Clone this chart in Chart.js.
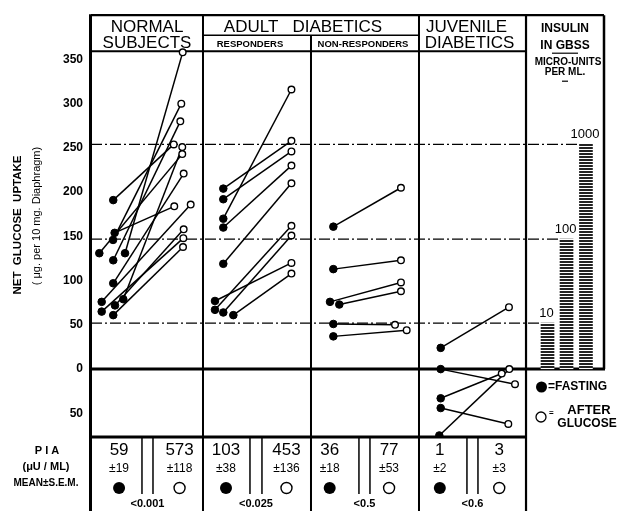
<!DOCTYPE html>
<html><head><meta charset="utf-8">
<script src="https://cdn.jsdelivr.net/npm/chart.js@4"></script>
<style>html,body{margin:0;padding:0;background:#fff}#wrap{width:625px;height:511px;position:relative}</style>
</head><body><div id="wrap"><canvas id="c" width="625" height="511"></canvas></div>
<script>
// ---------- DATA ----------
const yTickValues = [350,300,250,200,150,100,50,0,-50];
const panelEdges = [0,1.037,2.037,3.037,4.028,4.75];

const normalFastingX = [0.206,0.219,0.204,0.077,0.315,0.206,0.206,0.299,0.099,0.222,0.099,0.206];
const normalFasting  = [191,154,146,131,131,123,97,79,76,72,65,61];
const normalAfterX   = [0.766,0.771,0.836,0.845,0.849,0.827,0.858,0.845,0.923,0.858,0.855,0.852];
const normalAfter    = [254,184,300,243,358,280,221,251,186,158,148,138];

const respFastingX = [1.225,1.225,1.225,1.225,1.225,1.148,1.148,1.225,1.318];
const respFasting  = [204,192,170,160,119,77,67,64,61];
const respAfterX   = [1.856,1.856,1.856,1.856,1.856,1.856,1.856,1.856,1.856];
const respAfter    = [258,246,316,230,210,120,162,151,108];

const nonRespFastingX = [2.244,2.244,2.213,2.299,2.244,2.244];
const nonRespFasting  = [161,113,76,73,51,37];
const nonRespAfterX   = [2.870,2.870,2.870,2.870,2.815,2.923];
const nonRespAfter    = [205,123,98,88,50,44];

const juvFastingX = [3.238,3.238,3.238,3.238,3.225];
const juvFasting  = [24,0,-33,-44,-75];
const juvAfterX   = [3.870,3.926,3.803,3.864,3.873];
const juvAfter    = [70,-17,-5,-62,0];

const insulinLabels = ['10','100','1000'];
const insulinX      = [4.227,4.403,4.583];
const insulinUptake = [52,147,254];
const dashEndX      = [4.167,4.343,4.519];

const piaColX  = [0.26,0.82,1.25,1.81,2.21,2.76,3.23,3.78];
const piaMean  = ['59','573','103','453','36','77','1','3'];
const piaSem   = ['19','118','38','136','18','53','2','3'];
const pValues  = ['<0.001','<0.025','<0.5','<0.6'];
const doubleLineX = [[0.472,0.574],[1.472,1.583],[2.481,2.583],[3.481,3.583]];

// ---------- BUILD ----------
const FONT = "'Liberation Sans', Arial, sans-serif";
function hatch(){
  const c=document.createElement('canvas');c.width=4;c.height=3;
  const x=c.getContext('2d');x.fillStyle='#fff';x.fillRect(0,0,4,3);
  x.fillStyle='#222';x.fillRect(0,0,4,2);
  return x.createPattern(c,'repeat');
}
const datasets = [];
// dash-dot standard lines
insulinUptake.forEach((v,i)=>{
  datasets.push({type:'scatter',showLine:true,data:[{x:panelEdges[0],y:v},{x:dashEndX[i],y:v}],
    borderColor:'#000',borderWidth:1.3,borderDash:[11,3,2,3],pointRadius:0,order:5});
});
function addGroup(fx,fy,ax,ay){
  for(let i=0;i<fy.length;i++){
    datasets.push({type:'scatter',showLine:true,
      data:[{x:fx[i],y:fy[i]},{x:ax[i],y:ay[i]}],
      borderColor:'#000',borderWidth:1.5,
      pointRadius:[3.8,3.3],pointBackgroundColor:['#000','#fff'],
      pointBorderColor:'#000',pointBorderWidth:[1,1.4],order:1});
  }
}
addGroup(normalFastingX,normalFasting,normalAfterX,normalAfter);
addGroup(respFastingX,respFasting,respAfterX,respAfter);
addGroup(nonRespFastingX,nonRespFasting,nonRespAfterX,nonRespAfter);
addGroup(juvFastingX,juvFasting,juvAfterX,juvAfter);
datasets.push({type:'bar',data:insulinX.map((x,i)=>({x:x,y:insulinUptake[i]})),
  backgroundColor:hatch(),barThickness:13,borderWidth:0,order:6});

function line(ctx,x1,y1,x2,y2,w){ctx.lineWidth=w;ctx.beginPath();ctx.moveTo(x1,y1);ctx.lineTo(x2,y2);ctx.stroke();}
function txt(ctx,s,x,y,font,align){ctx.font=font+' '+FONT;ctx.textAlign=align||'center';ctx.textBaseline='middle';ctx.fillText(s,x,y);}

const frame = {
  id:'frame',
  beforeDatasetsDraw(chart){
    const ctx=chart.ctx, X=v=>chart.scales.x.getPixelForValue(v), Y=v=>chart.scales.y.getPixelForValue(v);
    const a=chart.chartArea, H=chart.height;
    ctx.save();ctx.strokeStyle='#000';ctx.fillStyle='#000';
    const e=panelEdges.map(X);
    line(ctx,e[0],a.top,e[5],a.top,2.2);
    line(ctx,e[0],a.top+36,e[4],a.top+36,2);
    line(ctx,e[1],a.top+20,e[3],a.top+20,1.5);
    line(ctx,e[0]-0.5,a.top-1,e[0]-0.5,H,3);
    line(ctx,e[1],a.top,e[1],H,2);
    line(ctx,e[2],a.top+20,e[2],H,2);
    line(ctx,e[3],a.top,e[3],H,2);
    line(ctx,e[4],a.top,e[4],H,2.2);
    line(ctx,e[5],a.top,e[5],Y(0),2.5);
    line(ctx,e[0],Y(0),e[5]+1,Y(0),3);
    line(ctx,e[0],a.bottom+1,e[4],a.bottom+1,3);
    // double lines in table
    doubleLineX.forEach(p=>{p.forEach(u=>line(ctx,X(u),a.bottom,X(u),a.bottom+58,1.5));});
    ctx.restore();
  },
  afterDraw(chart){
    const ctx=chart.ctx, X=v=>chart.scales.x.getPixelForValue(v), Y=v=>chart.scales.y.getPixelForValue(v);
    const a=chart.chartArea;
    const e=panelEdges.map(X);
    ctx.save();ctx.fillStyle='#000';ctx.strokeStyle='#000';
    // headers
    txt(ctx,'NORMAL',(e[0]+e[1])/2,a.top+12,'17px');
    txt(ctx,'SUBJECTS',(e[0]+e[1])/2,a.top+28,'17px');
    txt(ctx,'ADULT   DIABETICS',(e[1]+e[3])/2-8,a.top+12,'17px');
    txt(ctx,'RESPONDERS',(e[1]+e[2])/2-7,a.top+29,'bold 9.5px');
    txt(ctx,'NON-RESPONDERS',(e[2]+e[3])/2-2,a.top+29,'bold 9.5px');
    txt(ctx,'JUVENILE',(e[3]+e[4])/2-6,a.top+12,'17px');
    txt(ctx,'DIABETICS',(e[3]+e[4])/2-3,a.top+28,'17px');
    const ic=(e[4]+e[5])/2;
    txt(ctx,'INSULIN',ic,a.top+13,'bold 12px');
    txt(ctx,'IN GBSS',ic,a.top+30,'bold 12px');
    line(ctx,ic-13,a.top+38,ic+13,a.top+38,1.2);
    txt(ctx,'MICRO-UNITS',ic+3,a.top+47,'bold 10px');
    txt(ctx,'PER ML.',ic,a.top+57,'bold 10px');
    line(ctx,ic-3,a.top+66,ic+3,a.top+66,1.2);
    // insulin labels
    insulinLabels.forEach((s,i)=>txt(ctx,s,X(insulinX[i])-1,Y(insulinUptake[i])-10,'13px'));
    // y title
    ctx.save();ctx.translate(18,225);ctx.rotate(-Math.PI/2);
    txt(ctx,'NET  GLUCOSE  UPTAKE',0,0,'bold 11.5px');ctx.restore();
    ctx.save();ctx.translate(37,216);ctx.rotate(-Math.PI/2);
    txt(ctx,'( \u03bcg. per 10 mg. Diaphragm)',0,0,'11px');ctx.restore();
    // legend
    ctx.beginPath();ctx.arc(541.5,387,5.5,0,Math.PI*2);ctx.fill();
    txt(ctx,'=FASTING',548,387,'bold 12px','left');
    ctx.lineWidth=1.3;ctx.beginPath();ctx.arc(541,417,5,0,Math.PI*2);ctx.stroke();
    txt(ctx,'=',549,413,'bold 8px','left');
    txt(ctx,'AFTER',589,410,'bold 13px');
    txt(ctx,'GLUCOSE',587,424,'bold 12px');
    // PIA table
    txt(ctx,'P I A',47,a.bottom+15,'bold 11px');
    txt(ctx,'(\u03bcU / ML)',46,a.bottom+31,'bold 11px');
    txt(ctx,'MEAN\u00b1S.E.M.',46,a.bottom+47,'bold 10px');
    piaColX.forEach((u,i)=>{
      const x=X(u);
      txt(ctx,piaMean[i],x,a.bottom+14,'17px');
      txt(ctx,'\u00b1'+piaSem[i],x,a.bottom+33,'12px');
      ctx.beginPath();ctx.arc(x,a.bottom+52,i%2?5.5:6,0,Math.PI*2);
      if(i%2){ctx.lineWidth=1.4;ctx.stroke();}else ctx.fill();
    });
    pValues.forEach((s,i)=>{
      const x=(X(doubleLineX[i][0])+X(doubleLineX[i][1]))/2;
      txt(ctx,s,x,a.bottom+68,'bold 11px');
    });
    ctx.restore();
  }
};

new Chart(document.getElementById('c'),{
  type:'scatter',
  data:{datasets:datasets},
  plugins:[frame],
  options:{
    responsive:false,animation:false,
    layout:{padding:{left:0,right:21,top:7,bottom:75}},
    plugins:{legend:{display:false},tooltip:{enabled:false}},
    scales:{
      x:{type:'linear',min:panelEdges[0],max:panelEdges[5],display:false,offset:false,grid:{display:false}},
      y:{type:'linear',min:-75.6,max:400,
        afterFit:s=>{s.width=91;},
        afterBuildTicks:s=>{s.ticks=yTickValues.map(v=>({value:v}));},
        grid:{display:false,drawTicks:false},border:{display:false},
        ticks:{padding:8,color:'#000',font:{family:FONT,size:12,weight:'bold'},callback:v=>String(Math.abs(v))}}
    }
  }
});
</script></body></html>
